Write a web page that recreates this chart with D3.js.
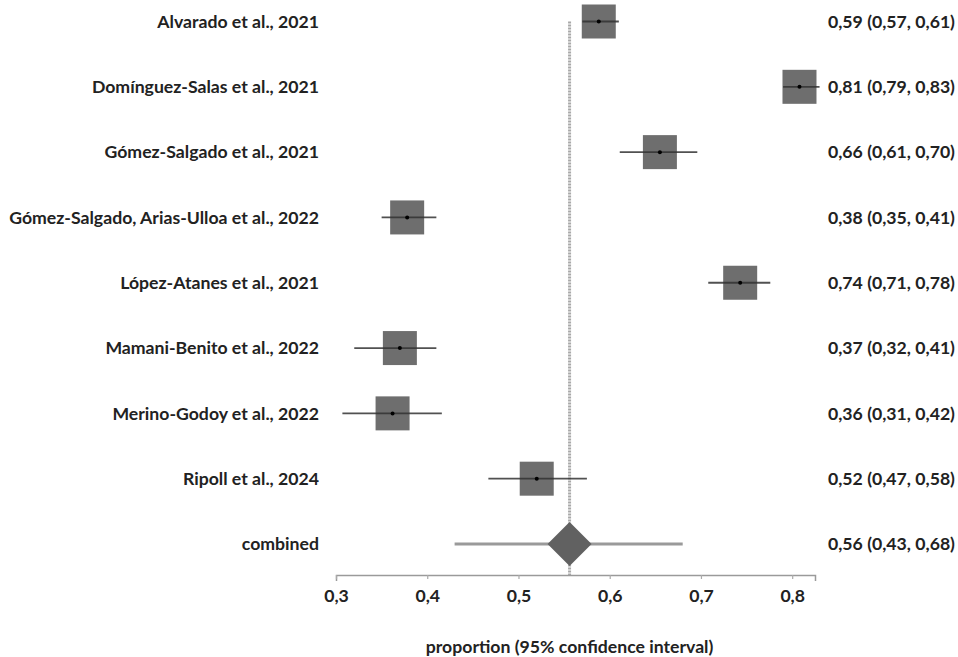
<!DOCTYPE html>
<html><head><meta charset="utf-8">
<script src="https://cdn.jsdelivr.net/npm/d3@7/dist/d3.min.js"></script>
<style>body{margin:0;background:#fff}svg{display:block}</style>
</head><body>
<svg id="chart" width="958" height="657"></svg>
<script>
const studies = ["Alvarado et al., 2021","Domínguez-Salas et al., 2021","Gómez-Salgado et al., 2021","Gómez-Salgado, Arias-Ulloa et al., 2022","López-Atanes et al., 2021","Mamani-Benito et al., 2022","Merino-Godoy et al., 2022","Ripoll et al., 2024"];
const estimates = [0.588, 0.808, 0.655, 0.378, 0.743, 0.370, 0.362, 0.520];
const lower = [0.570, 0.790, 0.611, 0.350, 0.708, 0.320, 0.307, 0.467];
const upper = [0.610, 0.830, 0.696, 0.410, 0.776, 0.410, 0.416, 0.575];
const estLabels = ["0,59 (0,57, 0,61)","0,81 (0,79, 0,83)","0,66 (0,61, 0,70)","0,38 (0,35, 0,41)","0,74 (0,71, 0,78)","0,37 (0,32, 0,41)","0,36 (0,31, 0,42)","0,52 (0,47, 0,58)"];
const combinedName = "combined";
const combinedEst = 0.556, combinedLo = 0.43, combinedHi = 0.68;
const combinedLabel = "0,56 (0,43, 0,68)";
const tickValues = [0.3,0.4,0.5,0.6,0.7,0.8];
const tickLabels = ["0,3","0,4","0,5","0,6","0,7","0,8"];
const axisTitle = "proportion (95% confidence interval)";

const svg = d3.select("#chart");
const FONT = "Lato, 'Open Sans', sans-serif";
const rows = studies.concat([combinedName]);
const x = d3.scaleLinear().domain([0.3, 0.825]).range([336, 815]);
const y = d3.scalePoint().domain(rows).range([21.5, 544]);
const axisY = 575;

// font size fitted to the widest label
const probe = svg.append("text").attr("font-family", FONT).attr("font-weight", 700).attr("font-size", 16).text(studies[3]);
const w16 = probe.node().getComputedTextLength();
probe.remove();
const fs = 16 * 310 / w16;

// reference dotted line
svg.append("line")
  .attr("x1", x(combinedEst)).attr("x2", x(combinedEst))
  .attr("y1", y(studies[0])).attr("y2", axisY)
  .attr("stroke", "#a8a8a8").attr("stroke-width", 3).attr("stroke-dasharray", "2,1");

// axis
const axis = d3.axisBottom(x).tickValues(tickValues).tickFormat((d, i) => tickLabels[i]).tickSizeInner(4).tickSizeOuter(6);
const gAxis = svg.append("g").attr("transform", `translate(0,${axisY})`).call(axis);
gAxis.select(".domain").attr("stroke", "#9a9a9a").attr("stroke-width", 1.5);
gAxis.selectAll(".tick line").attr("stroke", "#aaa").attr("stroke-width", 1.2);
gAxis.selectAll(".tick text").attr("font-family", FONT).attr("font-weight", 700)
  .attr("font-size", fs).attr("fill", "#222").attr("y", 14).attr("dy", "0.71em");

// study rows
const data = studies.map((s, i) => ({s, e: estimates[i], lo: lower[i], hi: upper[i], lab: estLabels[i]}));
const g = svg.append("g");
const box = 34;
g.selectAll("rect.box").data(data).join("rect").attr("class", "box")
  .attr("x", d => x(d.e) - box / 2).attr("y", d => y(d.s) - box / 2)
  .attr("width", box).attr("height", box).attr("fill", "#6e6e6e");
g.selectAll("line.ci").data(data).join("line").attr("class", "ci")
  .attr("x1", d => x(d.lo)).attr("x2", d => x(d.hi))
  .attr("y1", d => y(d.s)).attr("y2", d => y(d.s))
  .attr("stroke", "#333").attr("stroke-opacity", 0.85).attr("stroke-width", 1.8);
g.selectAll("circle.pt").data(data).join("circle").attr("class", "pt")
  .attr("cx", d => x(d.e)).attr("cy", d => y(d.s)).attr("r", 2).attr("fill", "#000");

// combined
const cy = y(combinedName);
svg.append("line").attr("x1", x(combinedLo)).attr("x2", x(combinedHi))
  .attr("y1", cy).attr("y2", cy).attr("stroke", "#9a9a9a").attr("stroke-width", 3);
const cx = x(combinedEst);
svg.append("path")
  .attr("d", `M${cx - 22},${cy} L${cx},${cy - 22} L${cx + 22},${cy} L${cx},${cy + 22} Z`)
  .attr("fill", "#616161");

// labels
svg.append("g").selectAll("text").data(rows).join("text")
  .attr("x", 319).attr("y", d => y(d)).attr("dy", "0.35em").attr("text-anchor", "end")
  .attr("font-family", FONT).attr("font-weight", 700).attr("font-size", fs).attr("fill", "#222")
  .text(d => d);
svg.append("g").selectAll("text").data(estLabels.concat([combinedLabel])).join("text")
  .attr("x", 828).attr("y", (d, i) => y(rows[i])).attr("dy", "0.35em")
  .attr("font-family", FONT).attr("font-weight", 700).attr("font-size", fs).attr("fill", "#222")
  .text(d => d);

svg.append("text").attr("x", x(0.556)).attr("y", 653).attr("text-anchor", "middle")
  .attr("font-family", FONT).attr("font-weight", 700).attr("font-size", fs).attr("fill", "#222")
  .text(axisTitle);
</script>
</body></html>
